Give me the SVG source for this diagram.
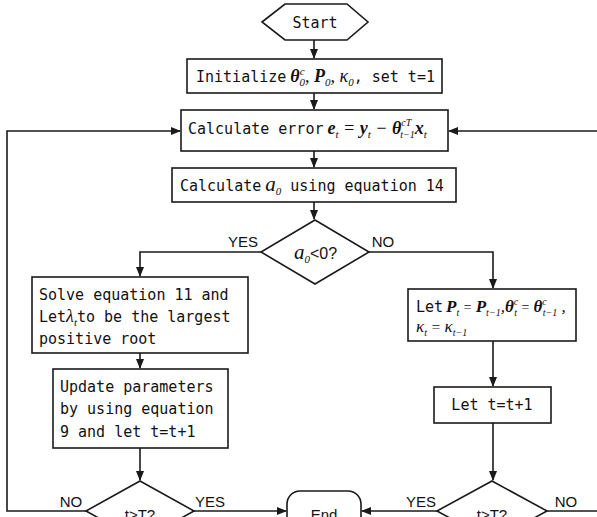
<svg xmlns="http://www.w3.org/2000/svg" width="597" height="517" viewBox="0 0 597 517">
<defs>
<marker id="ah" markerWidth="10" markerHeight="8" refX="9" refY="4" orient="auto" markerUnits="userSpaceOnUse">
<path d="M0,0 L10,4 L0,8 Z" fill="#1a1a1a"/>
</marker>
<style>
.shape{fill:#fff;stroke:#1a1a1a;stroke-width:1.6}
.con{fill:none;stroke:#1a1a1a;stroke-width:1.6}
.t{font-family:"DejaVu Sans Mono","Liberation Mono",monospace;font-size:15px;fill:#111}
.m{font-family:"Liberation Serif","Times New Roman",serif;font-style:italic;font-size:18px;fill:#111}
.mb{font-family:"Liberation Serif","Times New Roman",serif;font-style:italic;font-weight:bold;font-size:18px;fill:#111}
.s{font-size:11px}
.lab{font-family:"Liberation Sans Narrow","Liberation Sans",Arial,sans-serif;font-size:15px;fill:#111}
</style>
</defs>
<rect width="597" height="517" fill="#fff"/>

<g id="connectors">
<path class="con" d="M314,40 V58" marker-end="url(#ah)"/>
<path class="con" d="M314,93 V109" marker-end="url(#ah)"/>
<path class="con" d="M314,151 V167" marker-end="url(#ah)"/>
<path class="con" d="M314,202 V219" marker-end="url(#ah)"/>
<path class="con" d="M261,252 H140 V276" marker-end="url(#ah)"/>
<path class="con" d="M369,252 H493 V288" marker-end="url(#ah)"/>
<path class="con" d="M140,353 V368" marker-end="url(#ah)"/>
<path class="con" d="M140,448 V480" marker-end="url(#ah)"/>
<path class="con" d="M493,341 V386" marker-end="url(#ah)"/>
<path class="con" d="M493,423 V480" marker-end="url(#ah)"/>
<path class="con" d="M194,511 H286" marker-end="url(#ah)"/>
<path class="con" d="M437,511 H362" marker-end="url(#ah)"/>
<path class="con" d="M86,511 H7 V131 H180" marker-end="url(#ah)"/>
<path class="con" d="M547,511 H597"/>
<path class="con" d="M597,131 H449" marker-end="url(#ah)"/>
</g>

<g id="start">
<polygon class="shape" points="262,22 285,4 347,4 368,22 347,40 285,40"/>
<text class="t" x="315" y="28" text-anchor="middle">Start</text>
</g>

<g id="init">
<rect class="shape" x="187" y="59" width="255" height="34"/>
<text class="t" x="196" y="82">Initialize<tspan class="mb" dx="4">θ</tspan><tspan class="m s" dy="-7">c</tspan><tspan class="m s" dx="-5" dy="11">0</tspan><tspan class="m" dy="-4">, </tspan><tspan class="mb">P</tspan><tspan class="m s" dy="4">0</tspan><tspan class="m" dy="-4">, </tspan><tspan class="m">κ</tspan><tspan class="m s" dy="4">0</tspan><tspan dy="-4">, set t=1</tspan></text>
</g>

<g id="calcerr">
<rect class="shape" x="181" y="110" width="267" height="41"/>
<text class="t" x="188" y="134">Calculate error<tspan class="mb" dx="4">e</tspan><tspan class="m s" dy="4">t</tspan><tspan class="m" dy="-4"> = </tspan><tspan class="mb">y</tspan><tspan class="m s" dy="4">t</tspan><tspan class="m" dy="-4"> − </tspan><tspan class="mb">θ</tspan><tspan class="m" style="font-size:10px" dy="-8">cT</tspan><tspan class="m" style="font-size:10px" dx="-11" dy="12">t−1</tspan><tspan class="mb" dy="-4">x</tspan><tspan class="m s" dy="4">t</tspan></text>
</g>

<g id="calca0">
<rect class="shape" x="172" y="168" width="284" height="34"/>
<text class="t" x="180" y="191">Calculate<tspan class="m" style="font-size:21px" dx="4">a</tspan><tspan class="m s" dy="4">0</tspan><tspan dy="-4"> using equation 14</tspan></text>
</g>

<g id="dec1">
<polygon class="shape" points="315,220 369,252 315,284 261,252"/>
<text x="294" y="259"><tspan class="m" style="font-size:21px">a</tspan><tspan class="m s" dy="4">0</tspan><tspan class="lab" style="font-size:16px" dy="-4">&lt;0?</tspan></text>
</g>

<g id="solve">
<rect class="shape" x="32" y="277" width="216" height="76"/>
<text class="t" x="39" y="300">Solve equation 11 and</text>
<text class="t" x="39" y="322">Let<tspan class="m">λ</tspan><tspan class="m s" dy="4">t</tspan><tspan dy="-4">to be the largest</tspan></text>
<text class="t" x="39" y="344">positive root</text>
</g>

<g id="update">
<rect class="shape" x="53" y="369" width="175" height="79"/>
<text class="t" x="60" y="392">Update parameters</text>
<text class="t" x="60" y="414">by using equation</text>
<text class="t" x="60" y="437">9 and let t=t+1</text>
</g>

<g id="letbox">
<rect class="shape" x="408" y="289" width="168" height="52"/>
<text class="t" x="416" y="312">Let<tspan class="mb" style="font-size:17px" dx="3">P</tspan><tspan class="m" style="font-size:10px" dy="4">t</tspan><tspan class="m" dy="-4" style="font-size:14px"> = </tspan><tspan class="mb" style="font-size:17px">P</tspan><tspan class="m" style="font-size:10px" dy="4">t−1</tspan><tspan class="m" style="font-size:17px" dy="-4">,</tspan><tspan class="mb" style="font-size:17px">θ</tspan><tspan class="m" style="font-size:10px" dy="-7">c</tspan><tspan class="m" style="font-size:10px" dx="-4" dy="11">t</tspan><tspan class="m" dy="-4" style="font-size:14px"> = </tspan><tspan class="mb" style="font-size:17px">θ</tspan><tspan class="m" style="font-size:10px" dy="-7">c</tspan><tspan class="m" style="font-size:10px" dx="-4" dy="11">t−1</tspan><tspan class="m" style="font-size:17px" dy="-4"> ,</tspan></text>
<text class="m" style="font-size:17px" x="416" y="332">κ<tspan style="font-size:10px" dy="4">t</tspan><tspan dy="-4" style="font-size:15px"> = </tspan>κ<tspan style="font-size:10px" dy="4">t−1</tspan></text>
</g>

<g id="inc">
<rect class="shape" x="434" y="387" width="117" height="36"/>
<text class="t" x="492" y="410" text-anchor="middle">Let t=t+1</text>
</g>

<g id="dec2">
<polygon class="shape" points="140,481 194,511 140,541 86,511"/>
<text class="lab" x="140" y="520" text-anchor="middle">t&gt;T?</text>
</g>

<g id="dec3">
<polygon class="shape" points="492,481 547,511 492,541 437,511"/>
<text class="lab" x="492" y="520" text-anchor="middle">t&gt;T?</text>
</g>

<g id="end">
<rect class="shape" x="287" y="491" width="74" height="45" rx="13"/>
<text class="lab" x="324" y="520" text-anchor="middle">End</text>
</g>

<g id="labels">
<text class="lab" x="243" y="247" text-anchor="middle">YES</text>
<text class="lab" x="383" y="247" text-anchor="middle">NO</text>
<text class="lab" x="71" y="507" text-anchor="middle">NO</text>
<text class="lab" x="210" y="507" text-anchor="middle">YES</text>
<text class="lab" x="421" y="507" text-anchor="middle">YES</text>
<text class="lab" x="566" y="507" text-anchor="middle">NO</text>
</g>
</svg>
